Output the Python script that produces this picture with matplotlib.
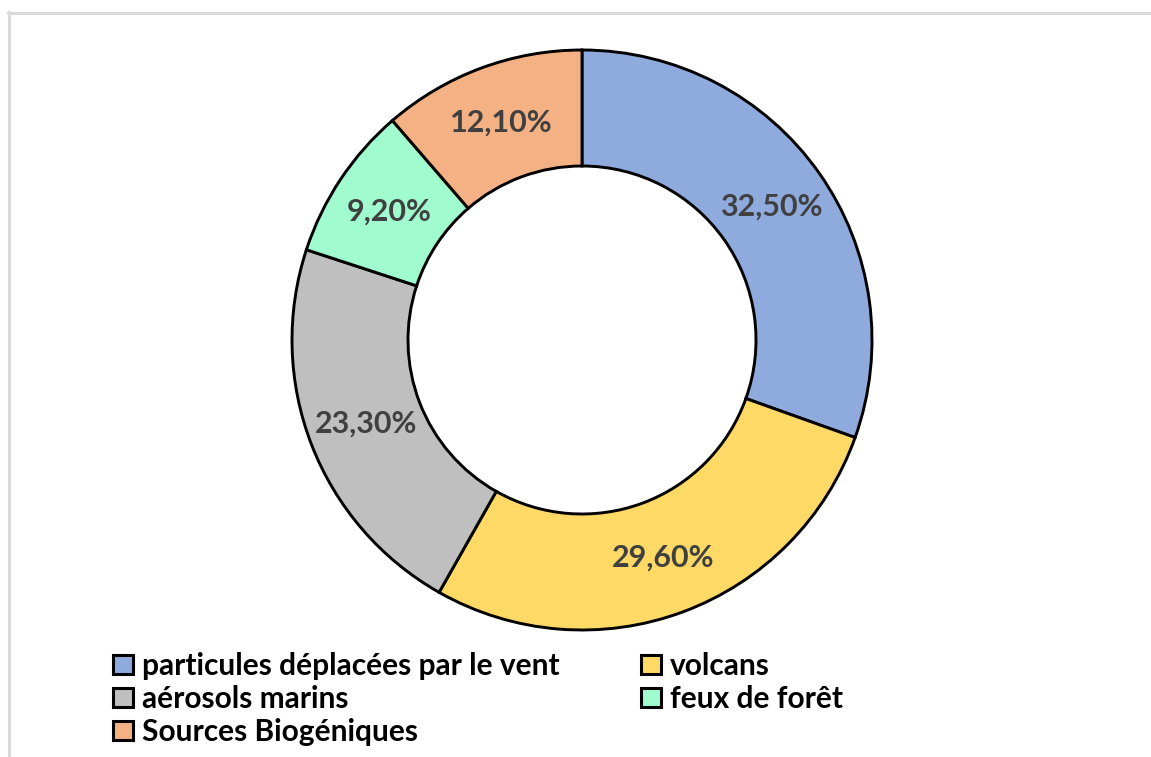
import matplotlib.pyplot as plt
from matplotlib.patches import Patch
from matplotlib.lines import Line2D

# sources d'aerosols
categories = ["particules déplacées par le vent", "volcans", "aérosols marins",
              "feux de forêt", "Sources Biogéniques"]
valeurs = [32.5, 29.6, 23.3, 9.2, 12.1]
couleurs = ["#8faadc", "#ffd966", "#bfbfbf", "#a0fbce", "#f4b183"]

plt.rcParams['font.family'] = ['Lato', 'DejaVu Sans']

W, H = 1151, 757
fig = plt.figure(figsize=(W / 100, H / 100), dpi=100)

# cadre gris (haut et gauche visibles)
fig.add_artist(Line2D([8 / W, 1], [1 - 12.5 / H, 1 - 12.5 / H], color="#d9d9d9", lw=2.2))
fig.add_artist(Line2D([8.5 / W, 8.5 / W], [0, 1 - 12 / H], color="#d9d9d9", lw=2.2))

cx, cy, r = 582, 340, 290
ax = fig.add_axes([(cx - r) / W, (H - cy - r) / H, 2 * r / W, 2 * r / H])

etiquettes = [f"{v:.2f}".replace(".", ",") + "%" for v in valeurs]
wedges, textes = ax.pie(valeurs, colors=couleurs, startangle=90, counterclock=False,
                        radius=1, labels=etiquettes, labeldistance=0.8,
                        wedgeprops=dict(width=0.4, edgecolor="black", linewidth=2.1))
for t in textes:
    t.set_ha("center")
    t.set_va("center")
    t.set_fontsize(22)
    t.set_fontweight("bold")
    t.set_color("#404040")
ax.set_xlim(-1, 1)
ax.set_ylim(-1, 1)
ax.set_aspect("equal")
ax.axis("off")

# legende ligne par ligne
ordre = [0, 2, 4, 1, 3]
poignees = [Patch(facecolor=couleurs[i], edgecolor="black", linewidth=2.2) for i in ordre]
noms = [categories[i] for i in ordre]
fig.legend(poignees, noms, ncol=2, loc="upper left",
           bbox_to_anchor=(113 / W, 1 - 652 / H), frameon=False,
           prop=dict(size=21.5, weight="bold"), handlelength=0.68, handleheight=0.62,
           handletextpad=0.3, columnspacing=2.7, labelspacing=0.17, borderpad=0,
           borderaxespad=0)

fig.savefig("out.png", dpi=100)
